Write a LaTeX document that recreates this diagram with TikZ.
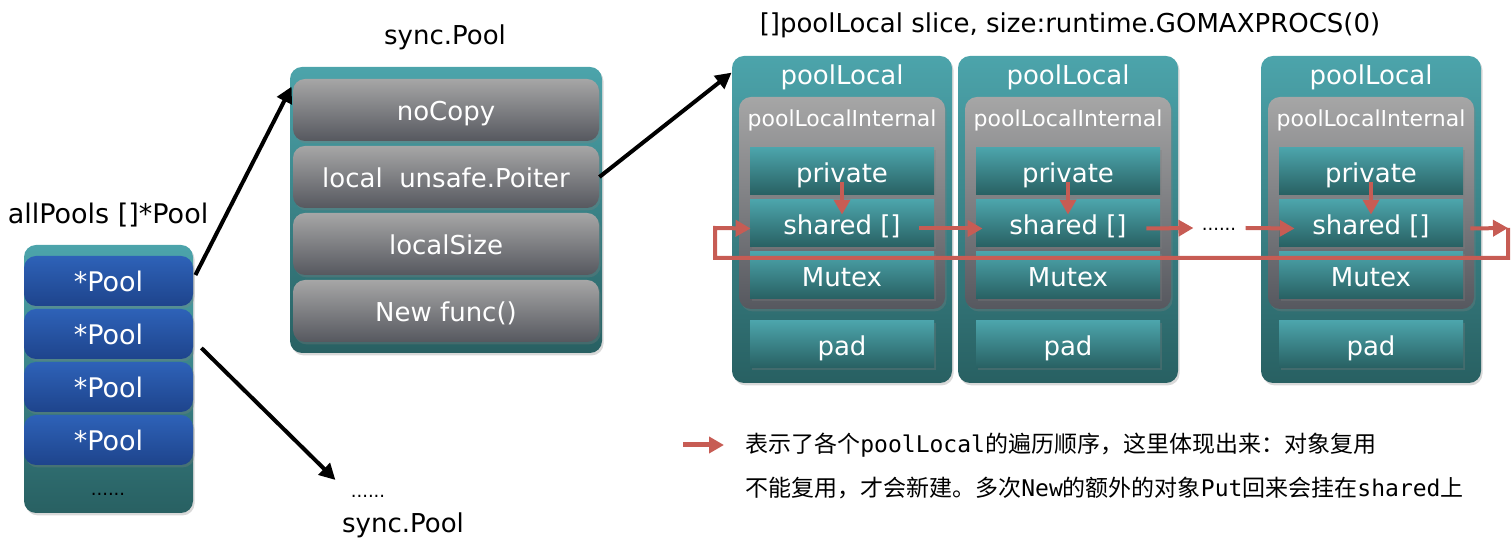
\documentclass[tikz,border=0pt]{standalone}
\usepackage{fontspec}
\setmainfont{DejaVu Sans}
\newfontfamily\cjkfont{Noto Sans CJK SC}
\newfontfamily\legmono{DejaVu Sans Mono}
\usetikzlibrary{arrows.meta,calc,shadows}

\definecolor{tealtop}{RGB}{76,164,171}
\definecolor{tealbot}{RGB}{40,96,98}
\definecolor{bluetop}{RGB}{46,98,184}
\definecolor{bluebot}{RGB}{30,68,140}
\definecolor{greytop}{RGB}{166,166,166}
\definecolor{greybot}{RGB}{86,88,95}
\definecolor{loopred}{RGB}{199,92,84}

\tikzset{
  box/.style={rounded corners=6pt, inner sep=0pt, text=white,
    text height=1.3em, text depth=0.2em,
    font=\fontsize{13}{15}\selectfont,
    drop shadow={shadow xshift=0.8pt, shadow yshift=-1.2pt, opacity=0.3}},
  holder/.style={box, top color=tealtop, bottom color=tealbot},
  poolbox/.style={box, top color=bluetop, bottom color=bluebot,
    minimum width=84.5pt, minimum height=25pt, font=\fontsize{13.5}{15}\selectfont},
  fieldbox/.style={box, top color=greytop, bottom color=greybot,
    minimum width=153pt, minimum height=31pt},
  innerbox/.style={box, top color=greytop, bottom color=greybot,
    minimum width=103pt, minimum height=106pt},
  slotbox/.style={box, sharp corners, top color=tealtop, bottom color=tealbot,
    minimum width=92pt, minimum height=23.5pt},
  label/.style={inner sep=0pt, font=\fontsize{13}{15}\selectfont},
  whitelabel/.style={label, text=white},
  dotsnode/.style={inner sep=0pt, anchor=base, font=\fontsize{9}{10}\selectfont},
  blackarrow/.style={line width=2pt, -{Triangle[length=8pt, width=8pt]}},
  redarrow/.style={draw=loopred, line width=2pt, -{Triangle[length=7.5pt, width=8pt]}},
  legtext/.style={inner sep=0pt, anchor=west, font=\fontsize{11.5}{13}\cjkfont}
}

\begin{document}
\begin{tikzpicture}[x=0.5pt, y=-0.5pt]
    \useasboundingbox (0,0) rectangle (1512,549);

    % allPools
    \node[label, font=\fontsize{13.5}{15}\selectfont] (poolsT) at (108,215) {allPools []*Pool};
    \node[holder, minimum width=84.5pt, minimum height=134pt] (pools) at (108.5,379) {};
    \node[poolbox] (p1) at (108.5,281) {*Pool};
    \node[poolbox] (p2) at (108.5,334) {*Pool};
    \node[poolbox] (p3) at (108.5,387) {*Pool};
    \node[poolbox] (p4) at (108.5,440) {*Pool};
    \node[dotsnode, text=black] (pdots) at (108,496) {......};

    % sync.Pool
    \node[label] (spT) at (445,37) {sync.Pool};
    \node[holder, minimum width=156pt, minimum height=143pt] (sp) at (446,210) {};
    \node[fieldbox] (nc) at (446,110) {noCopy};
    \node[fieldbox] (lc) at (446,177) {local\ \ unsafe.Poiter};
    \node[fieldbox] (ls) at (446,244) {localSize};
    \node[fieldbox] (nf) at (446,311) {New func()};
    \node[dotsnode] (spdots) at (368,498) {......};
    \node[label] (spname) at (403,525) {sync.Pool};

    % poolLocal slice
    \node[label] (sliceT) at (1070,25) {[]poolLocal slice, size:runtime.GOMAXPROCS(0)};

    \node[holder, minimum width=110pt, minimum height=163.5pt] (pl1) at (842,219.5) {};
    \node[whitelabel] (pl1t) at (842,77) {poolLocal};
    \node[innerbox] (in1) at (842,203) {};
    \node[whitelabel, font=\fontsize{11}{13}\selectfont] (in1t) at (842,120) {poolLocalInternal};
    \node[slotbox] (pr1) at (842,171.5) {private};
    \node[slotbox] (sh1) at (842,223.5) {shared []};
    \node[slotbox] (mu1) at (842,275.5) {Mutex};
    \node[slotbox] (pd1) at (842,344.5) {pad};

    \node[holder, minimum width=110pt, minimum height=163.5pt] (pl2) at (1068,219.5) {};
    \node[whitelabel] (pl2t) at (1068,77) {poolLocal};
    \node[innerbox] (in2) at (1068,203) {};
    \node[whitelabel, font=\fontsize{11}{13}\selectfont] (in2t) at (1068,120) {poolLocalInternal};
    \node[slotbox] (pr2) at (1068,171.5) {private};
    \node[slotbox] (sh2) at (1068,223.5) {shared []};
    \node[slotbox] (mu2) at (1068,275.5) {Mutex};
    \node[slotbox] (pd2) at (1068,344.5) {pad};

    \node[holder, minimum width=110pt, minimum height=163.5pt] (pl3) at (1371,219.5) {};
    \node[whitelabel] (pl3t) at (1371,77) {poolLocal};
    \node[innerbox] (in3) at (1371,203) {};
    \node[whitelabel, font=\fontsize{11}{13}\selectfont] (in3t) at (1371,120) {poolLocalInternal};
    \node[slotbox] (pr3) at (1371,171.5) {private};
    \node[slotbox] (sh3) at (1371,223.5) {shared []};
    \node[slotbox] (mu3) at (1371,275.5) {Mutex};
    \node[slotbox] (pd3) at (1371,344.5) {pad};

    \node[dotsnode] (dots) at (1219,231) {......};

    % black arrows
    \draw[blackarrow] ($(p1.east)+(2,-6)$) -- ($(nc.north west)+(-1,8)$);
    \draw[blackarrow] ($(p2.east)+(8,14)$) -- ($(spdots.base west)+(-15,-18)$);
    \draw[blackarrow] (lc.east) -- ($(pl1.north west)+(0,17)$);

    % red order of visits
    \draw[redarrow] ($(pr1.south)+(0,-13)$) -- ($(sh1.north)+(0,15)$);
    \draw[redarrow] ($(pr2.south)+(0,-13)$) -- ($(sh2.north)+(0,15)$);
    \draw[redarrow] ($(pr3.south)+(0,-13)$) -- ($(sh3.north)+(0,15)$);
    \draw[redarrow] ($(sh1.east)+(-15,5)$) -- ($(sh2.west)+(7,5)$);
    \draw[redarrow] ($(sh2.east)+(-14,5)$) -- ($(dots.base west)+(-8,-3)$);
    \draw[redarrow] ($(dots.base east)+(9,-3)$) -- ($(sh3.west)+(16,5)$);
    \coordinate (re) at (1508,228);
    \coordinate (le) at (715,228);
    \draw[redarrow] ($(sh3.east)+(7,5)$) -- (re);
    \draw[redarrow] (re) -- ++(0,30) -| (le) -- ($(sh1.west)+(1,5)$);

    % legend
    \node[legtext] (leg1) at (745,445) {表示了各个{\legmono poolLocal}的遍历顺序，这里体现出来：对象复用};
    \node[legtext] (leg2) at (745,488) {不能复用，才会新建。多次{\legmono New}的额外的对象{\legmono Put}回来会挂在{\legmono shared}上};
    \coordinate (lg) at (683,445);
    \draw[redarrow, line width=2.5pt] (lg) -- ($(leg1.west)+(-21,0)$);
\end{tikzpicture}
\end{document}
